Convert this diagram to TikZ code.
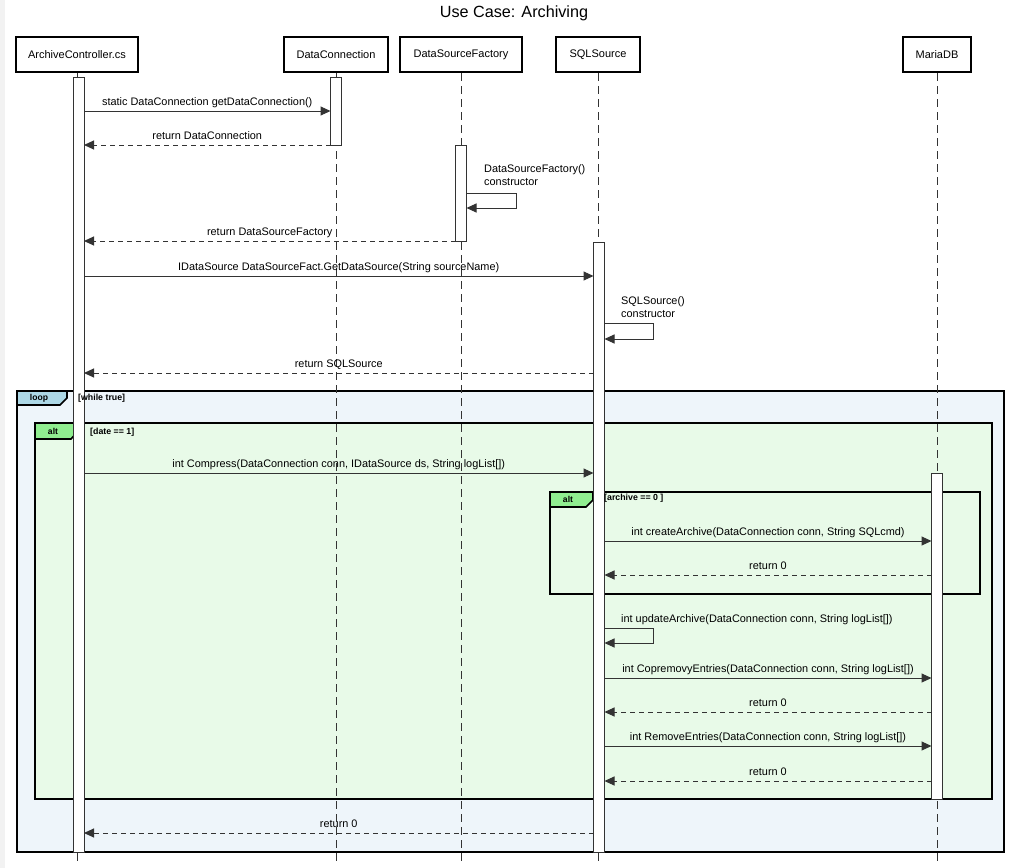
\documentclass[tikz,border=0pt]{standalone}
\usepackage{fontspec}
\setmainfont{Liberation Sans}
\usetikzlibrary{arrows.meta}
\definecolor{loopbg}{HTML}{EEF5FA}
\definecolor{looptab}{HTML}{ADD8E6}
\definecolor{altbg}{HTML}{E8FAE8}
\definecolor{alttab}{HTML}{90EE90}
\definecolor{ln}{HTML}{333333}
\definecolor{strip}{HTML}{F2F2F2}
\begin{document}
\begin{tikzpicture}[x=1pt,y=-1pt,
  font=\fontsize{10.9}{12}\selectfont,
  head/.style={draw, line width=2.2pt, fill=white, minimum height=35pt, inner sep=0pt, font=\fontsize{11}{13}\selectfont},
  life/.style={draw=ln, line width=1pt, dash pattern=on 8pt off 5pt},
  bar/.style={draw=ln, line width=1pt, fill=white, minimum width=11pt, inner sep=0pt, outer sep=0pt, anchor=north},
  msg/.style={draw=ln, line width=1pt, -{Triangle[length=10pt,width=9pt]}},
  ret/.style={msg, dash pattern=on 5pt off 4pt},
  lbl/.style={anchor=base, yshift=6pt, inner sep=0pt},
  selflbl/.style={anchor=north west, align=left, inner sep=0pt, font=\fontsize{10.9}{13}\selectfont},
  framebox/.style={draw, line width=1.6pt, inner sep=0pt, outer sep=0pt, anchor=north west},
  tabshape/.style={draw, line width=1.6pt},
  guard/.style={font=\bfseries\fontsize{8.8}{10}\selectfont, anchor=west, inner sep=0pt},
  tabtxt/.style={font=\bfseries\fontsize{8.6}{10}\selectfont, inner sep=0pt}
]
\useasboundingbox (0,0) rectangle (1013,868);
\fill[white] (0,0) rectangle (1013,868);
\fill[strip] (0,0) rectangle (5,868);

% title
\node (title) at (514,13) {\fontsize{16.2}{19}\selectfont Use Case: Archiving};

% frames
\node[framebox, fill=loopbg, minimum width=987pt, minimum height=461pt] (loop) at (17,391) {};
\draw[tabshape, fill=looptab] (loop.north west) -- ++(50,0) -- ++(0,7) -- ++(-7,7) -- ++(-43,0) -- cycle;
\node[tabtxt] (looplbl) at (39,398) {loop};

\node[framebox, fill=altbg, minimum width=957pt, minimum height=376pt] (alt1) at (35,423) {};
\draw[tabshape, fill=alttab] (alt1.north west) -- ++(43,0) -- ++(0,8) -- ++(-7,8) -- ++(-36,0) -- cycle;
\node[tabtxt] (alt1lbl) at (53,431) {alt};

\node[framebox, fill=altbg, minimum width=430pt, minimum height=102pt] (alt2) at (550,492) {};
\draw[tabshape, fill=alttab] (alt2.north west) -- ++(43,0) -- ++(0,8) -- ++(-7,7) -- ++(-36,0) -- cycle;
\node[tabtxt] (alt2lbl) at (568,499) {alt};

% headers
\node[head, minimum width=122pt] (h1) at (77,54.5) {ArchiveController.cs};
\node[head, minimum width=104pt] (h2) at (336,54.5) {DataConnection};
\node[head, minimum width=122pt] (h3) at (461,54.5) {DataSourceFactory};
\node[head, minimum width=84pt] (h4) at (598,54.5) {SQLSource};
\node[head, minimum width=68pt] (h5) at (937,54.5) {MariaDB};

% lifelines
\foreach \h in {h1,h2,h3,h4,h5}{
  \draw[life] (\h.south) -- (\h.south |- 0,862);
}

% activation bars
\node[bar, minimum height=775pt] (a1) at (78.5,77) {};
\node[bar, minimum height=68pt] (a2) at (336,77) {};
\node[bar, minimum height=96pt] (a3) at (461,145) {};
\node[bar, minimum height=610pt] (a4) at (599,242) {};
\node[bar, minimum height=326pt] (a5) at (937,473) {};

% guards
\node[guard] (loopg) at (78,398) {[while true]};
\node[guard] (alt1g) at (90,432) {[date == 1]};
\node[guard] (alt2g) at (604,498) {[archive == 0 ]};

% messages
\draw[msg] (a1.east |- 0,111) -- node[lbl] {static DataConnection getDataConnection()} (a2.west |- 0,111);
\draw[ret] (a2.west |- 0,145) -- node[lbl] {return DataConnection} (a1.east |- 0,145);

\draw[msg] (a3.east |- 0,193) -- ++(50,0) -- ++(0,15) -- (a3.east |- 0,208);
\node[selflbl] (s1) at (484,164) {DataSourceFactory()\\constructor};

\draw[ret] (a3.west |- 0,241) -- node[lbl] {return DataSourceFactory} (a1.east |- 0,241);
\draw[msg] (a1.east |- 0,276) -- node[lbl] {IDataSource DataSourceFact.GetDataSource(String sourceName)} (a4.west |- 0,276);

\draw[msg] (a4.east |- 0,323) -- ++(49,0) -- ++(0,16) -- (a4.east |- 0,339);
\node[selflbl] (s2) at (621,296) {SQLSource()\\constructor};

\draw[ret] (a4.west |- 0,373) -- node[lbl] {return SQLSource} (a1.east |- 0,373);

\draw[msg] (a1.east |- 0,473) -- node[lbl] {int Compress(DataConnection conn, IDataSource ds, String logList[])} (a4.west |- 0,473);

\draw[msg] (a4.east |- 0,541) -- node[lbl] {int createArchive(DataConnection conn, String SQLcmd)} (a5.west |- 0,541);
\draw[ret] (a5.west |- 0,575) -- node[lbl] {return 0} (a4.east |- 0,575);

\draw[msg] (a4.east |- 0,628) -- ++(49,0) -- ++(0,15) -- (a4.east |- 0,643);
\node[selflbl] (s3) at (621,614) {int updateArchive(DataConnection conn, String logList[])};

\draw[msg] (a4.east |- 0,678) -- node[lbl] {int CopremovyEntries(DataConnection conn, String logList[])} (a5.west |- 0,678);
\draw[ret] (a5.west |- 0,712) -- node[lbl] {return 0} (a4.east |- 0,712);
\draw[msg] (a4.east |- 0,746) -- node[lbl] {int RemoveEntries(DataConnection conn, String logList[])} (a5.west |- 0,746);
\draw[ret] (a5.west |- 0,781) -- node[lbl] {return 0} (a4.east |- 0,781);

\draw[ret] (a4.west |- 0,833) -- node[lbl] {return 0} (a1.east |- 0,833);
\end{tikzpicture}
\end{document}
